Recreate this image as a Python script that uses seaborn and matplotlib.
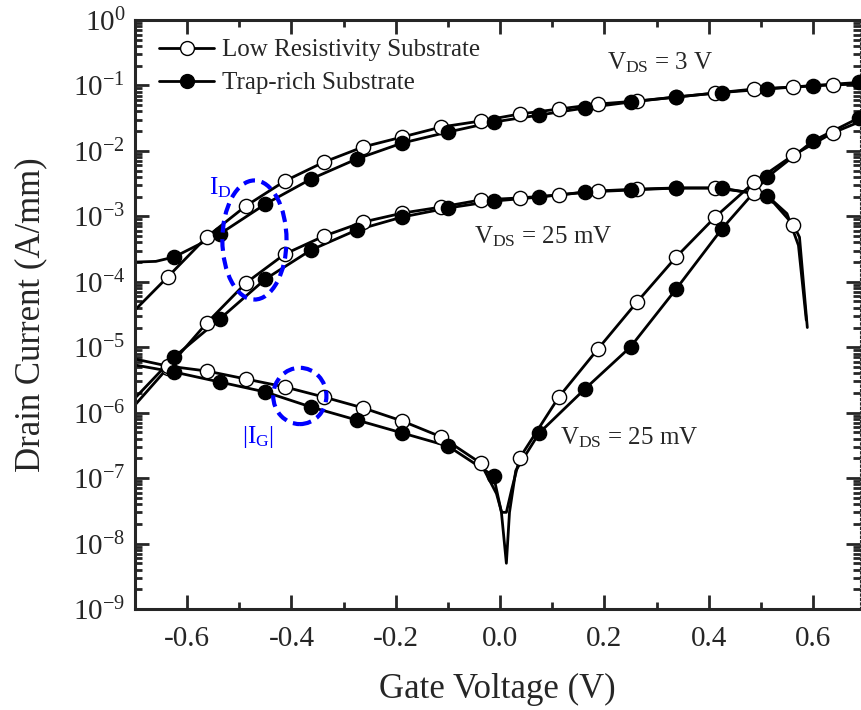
import matplotlib
matplotlib.use('Agg')
import matplotlib.pyplot as plt
import numpy as np
import pandas as pd
import seaborn as sns
from matplotlib.lines import Line2D
from matplotlib.patches import Ellipse
from matplotlib.ticker import LogLocator, MultipleLocator, NullFormatter

# gate voltage (V) where the symbols sit, one grid per sample
low_vg = [-0.6375, -0.5625, -0.4875, -0.4125, -0.3375, -0.2625, -0.1875, -0.1125, -0.0375,
          0.0375, 0.1125, 0.1875, 0.2625, 0.3375, 0.4125, 0.4875, 0.5625, 0.6375]
trap_vg = [-0.625, -0.5375, -0.45, -0.3625, -0.275, -0.1875, -0.1, -0.0125,
           0.075, 0.1625, 0.25, 0.3375, 0.425, 0.5125, 0.6, 0.6875]

# drain current at V_DS = 3 V (A/mm)
id3_low = [1.18e-4, 4.83e-4, 1.44e-3, 3.47e-3, 6.76e-3, 1.15e-2, 1.63e-2, 2.32e-2, 2.86e-2,
           3.66e-2, 4.36e-2, 5.2e-2, 5.78e-2, 6.65e-2, 7.66e-2, 8.83e-2, 9.47e-2, 0.102]
id3_trap = [2.39e-4, 5.37e-4, 1.54e-3, 3.72e-3, 7.52e-3, 1.32e-2, 1.94e-2, 2.76e-2,
            3.53e-2, 4.52e-2, 5.58e-2, 6.65e-2, 7.8e-2, 8.83e-2, 9.98e-2, 0.111]

# drain current at V_DS = 25 mV (A/mm)
id25_low = [4.81e-6, 2.34e-5, 9.57e-5, 2.66e-4, 5.0e-4, 8.19e-4, 1.12e-3, 1.39e-3, 1.78e-3,
            1.91e-3, 2.12e-3, 2.44e-3, 2.61e-3, 2.71e-3, 2.71e-3, 2.27e-3, 7.36e-4]
id25_trap = [7.08e-6, 2.70e-5, 1.10e-4, 3.06e-4, 6.18e-4, 9.77e-4, 1.34e-3, 1.71e-3,
             1.97e-3, 2.35e-3, 2.52e-3, 2.71e-3, 2.71e-3, 2.05e-3]

# gate current |I_G| at V_DS = 25 mV (A/mm)
ig_low = [5.16e-6, 4.33e-6, 3.27e-6, 2.47e-6, 1.73e-6, 1.18e-6, 7.45e-7, 4.25e-7, 1.70e-7,
          2.03e-7, 1.73e-6, 9.39e-6, 4.91e-5, 2.39e-4, 9.77e-4, 3.34e-3, 8.65e-3, 1.88e-2]
ig_trap = [4.18e-6, 2.94e-6, 2.07e-6, 1.22e-6, 7.72e-7, 4.89e-7, 3.09e-7, 1.08e-7,
           4.89e-7, 2.30e-6, 1.01e-5, 7.75e-5, 6.4e-4, 3.99e-3, 1.42e-2, 3.18e-2]

# curve points between the symbols: axis edges, the |I_G| dip and the roll-off
id3_low_extra = ([-0.7, 0.69], [3.7e-5, 0.105])
id3_trap_extra = ([-0.7, -0.66], [2.0e-4, 2.05e-4])
id25_low_extra = ([-0.7, 0.525, 0.574, 0.589], [1.31e-6, 1.6e-3, 4.8e-4, 2.0e-5])
id25_trap_extra = ([-0.7, 0.55, 0.572, 0.587], [1.67e-6, 1.1e-3, 3.6e-4, 2.6e-5])
ig_low_extra = ([-0.7, -0.007, 0.003, 0.012, 0.022, 0.69],
                [6.6e-6, 5.8e-8, 3.0e-8, 3.0e-8, 6.6e-8, 2.8e-2])
ig_trap_extra = ([-0.7, 0.0025, 0.012, 0.018, 0.03],
                 [5.35e-6, 3.0e-8, 5.0e-9, 3.0e-8, 1.3e-7])


# joins the symbol points with the extra curve points, sorted along V_G
def curve_frame(vg, cur, extra):
    df = pd.DataFrame({'vg': list(vg[:len(cur)]) + list(extra[0]),
                       'cur': list(cur) + list(extra[1])})
    return df.sort_values('vg').reset_index(drop=True)


sns.set_style('ticks')
plt.rcParams['font.family'] = ['Liberation Serif', 'DejaVu Serif']
plt.rcParams['mathtext.fontset'] = 'custom'
plt.rcParams['mathtext.rm'] = 'Liberation Serif'
plt.rcParams['mathtext.it'] = 'Liberation Serif:italic'
plt.rcParams['mathtext.default'] = 'regular'
plt.rcParams['axes.unicode_minus'] = False

fig = plt.figure(figsize=(8.62, 7.10), dpi=100)
ax = fig.add_axes([135 / 862, 101 / 710, 725 / 862, 589 / 710])

series = [
    (low_vg, id3_low, id3_low_extra, 'white'),
    (low_vg, id25_low, id25_low_extra, 'white'),
    (low_vg, ig_low, ig_low_extra, 'white'),
    (trap_vg, id3_trap, id3_trap_extra, 'black'),
    (trap_vg, id25_trap, id25_trap_extra, 'black'),
    (trap_vg, ig_trap, ig_trap_extra, 'black'),
]

# curves first, symbols on top (filled ones last)
for vg, cur, extra, face in series:
    df = curve_frame(vg, cur, extra)
    sns.lineplot(data=df, x='vg', y='cur', ax=ax, color='black', linewidth=2.0,
                 estimator=None, sort=True, zorder=2)
for vg, cur, extra, face in series:
    sns.scatterplot(x=vg[:len(cur)], y=cur, ax=ax, marker='o', s=105, facecolor=face,
                    edgecolor='black', linewidth=1.0, zorder=3 if face == 'white' else 4)

ax.set_yscale('log')
ax.set_xlim(-0.7, 0.69)
ax.set_ylim(1e-9, 1)

ax.xaxis.set_major_locator(MultipleLocator(0.2))
ax.xaxis.set_minor_locator(MultipleLocator(0.1))
ax.yaxis.set_major_locator(LogLocator(base=10, numticks=20))
ax.yaxis.set_minor_locator(LogLocator(base=10, subs=np.arange(2, 10), numticks=20))
ax.yaxis.set_minor_formatter(NullFormatter())
ax.tick_params(which='both', direction='in', top=True, right=True, width=2, labelsize=21)
ax.tick_params(which='major', length=10)
ax.tick_params(which='minor', length=5)
ax.tick_params(axis='x', pad=12)
ax.tick_params(axis='y', pad=7)
for side in ['left', 'bottom', 'top']:
    ax.spines[side].set_linewidth(2.2)
ax.spines['right'].set_linewidth(0.8)
ax.spines['right'].set_linestyle((0, (2, 2)))

ax.set_xlabel('Gate Voltage (V)', fontsize=25, labelpad=15)
ax.set_ylabel('Drain Current (A/mm)', fontsize=25, labelpad=18)

# legend
handles = [
    Line2D([], [], color='black', lw=2.0, marker='o', ms=10, mfc='white', mec='black', mew=1.0),
    Line2D([], [], color='black', lw=2.0, marker='o', ms=10, mfc='black', mec='black', mew=1.0),
]
ax.legend(handles, ['Low Resistivity Substrate', 'Trap-rich Substrate'], loc='upper left',
          bbox_to_anchor=(0.02, 0.985), borderaxespad=0, frameon=False, fontsize=18,
          handlelength=2.2, handletextpad=0.3, labelspacing=0.42)

# bias annotations
ax.text(0.306, 0.225, 'V$_{DS}$ = 3 V', fontsize=18, ha='center', va='center')
ax.text(0.083, 4.8e-4, 'V$_{DS}$ = 25 mV', fontsize=18, ha='center', va='center')
ax.text(0.248, 4.2e-7, 'V$_{DS}$ = 25 mV', fontsize=18, ha='center', va='center')
ax.text(-0.536, 2.7e-3, 'I$_{D}$', fontsize=18, color='blue', ha='center', va='center')
ax.text(-0.465, 4.2e-7, '|I$_{G}$|', fontsize=18, color='blue', ha='center', va='center')

# dashed blue ellipses around the I_D and |I_G| groups (centre in data units,
# width in volts, height in decades)
to_axes = ax.transAxes.inverted()
for cx, cy, w, h in [(-0.471, 4.35e-4, 0.123, 1.82), (-0.384, 1.8e-6, 0.102, 0.86)]:
    centre = to_axes.transform(ax.transData.transform((cx, cy)))
    ax.add_patch(Ellipse(centre, w / 1.39, h / 9, transform=ax.transAxes, fill=False,
                         edgecolor='blue', linewidth=3, linestyle=(0, (2.8, 1.6)), zorder=5))

fig.savefig('out.png', dpi=100)
